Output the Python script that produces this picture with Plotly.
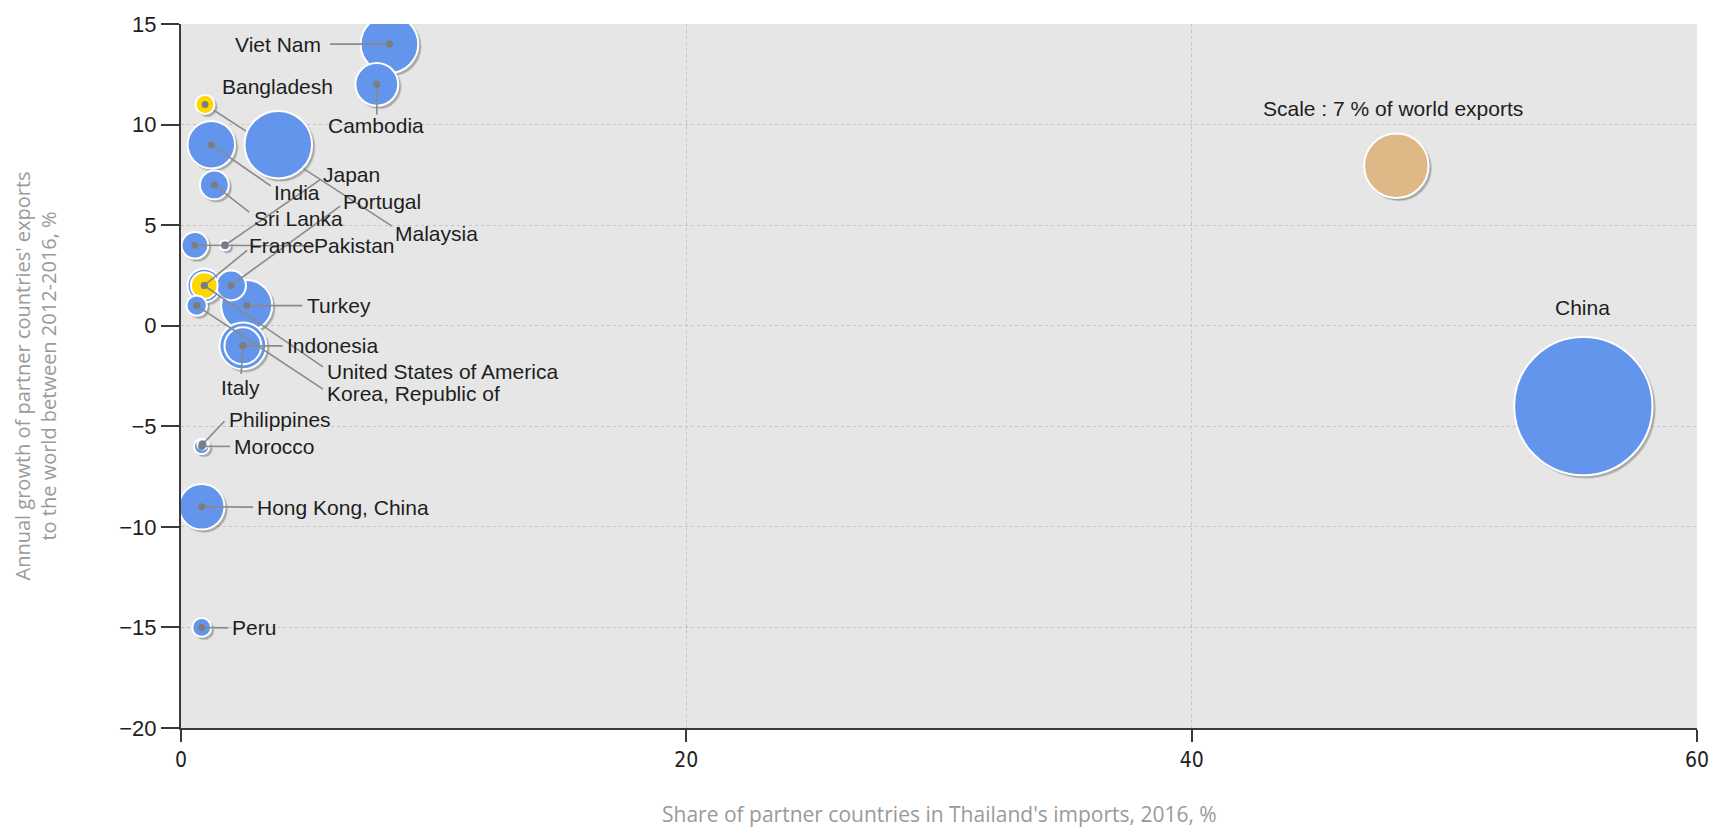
import plotly.graph_objects as go

# ---------------- data ----------------
countries = ["China", "Bangladesh", "Viet Nam", "Turkey", "India", "Italy",
             "Hong Kong, China", "Cambodia", "Indonesia", "France", "Portugal",
             "Sri Lanka", "Pakistan", "United States of America",
             "Korea, Republic of", "Malaysia", "Peru", "Morocco", "Japan",
             "Philippines"]
share_imports = [55.5, 3.85, 8.25, 2.6, 1.2, 2.45, 0.82, 7.75, 2.45, 0.92, 1.98,
                 1.32, 0.55, 0.92, 0.62, 0.95, 0.82, 0.82, 1.74, 0.85]
export_growth = [-4, 9, 14, 1, 9, -1, -9, 12, -1, 2, 2, 7, 4, 2, 1, 11, -15, -6, 4, -5.9]
world_share = [32.3, 7.7, 5.6, 4.4, 3.8, 3.7, 3.5, 3.1, 2.3, 1.9, 1.5, 1.4, 1.2, 1.2,
               0.7, 0.6, 0.6, 0.4, 0.17, 0.17]
highlight = ["Malaysia", "United States of America"]

scale_value = 7
scale_x = [48.1]
scale_y = [7.95]
scale_label = "Scale : 7 % of world exports"

x_ticks = [0, 20, 40, 60]
y_ticks = [-20, -15, -10, -5, 0, 5, 10, 15]
x_title = "Share of partner countries in Thailand's imports, 2016, %"
y_title = "Annual growth of partner countries' exports<br>to the world between 2012-2016, %"

# ---------------- label layout (positions in axis units) ----------------
# name: (label_x, label_y, xanchor, leader_end_x, leader_end_y)  leader None = no line
label_layout = {
    "Viet Nam": (5.62, 14.0, "right", 5.9, 14.0),
    "Cambodia": (7.7, 9.95, "center", 7.75, 10.5),
    "Bangladesh": (3.8, 11.9, "center", None, None),
    "Malaysia": (8.4, 4.6, "left", 8.35, 4.95),
    "India": (3.6, 6.6, "left", 3.55, 6.95),
    "Japan": (5.55, 7.5, "left", 5.5, 7.25),
    "Portugal": (6.35, 6.2, "left", 6.3, 5.95),
    "Sri Lanka": (2.8, 5.35, "left", 2.7, 5.65),
    "Pakistan": (5.2, 3.98, "left", 5.15, 3.98),
    "France": (2.62, 3.98, "left", 2.62, 3.75),
    "Turkey": (4.9, 1.0, "left", 4.8, 1.0),
    "Indonesia": (4.1, -1.0, "left", 4.02, -1.0),
    "United States of America": (5.7, -2.3, "left", 5.62, -2.05),
    "Korea, Republic of": (5.7, -3.35, "left", 5.62, -3.15),
    "Italy": (2.35, -3.05, "center", 2.38, -2.4),
    "Philippines": (1.82, -4.65, "left", 1.72, -4.75),
    "Morocco": (2.02, -6.0, "left", 1.94, -6.0),
    "Hong Kong, China": (2.92, -9.02, "left", 2.85, -9.02),
    "Peru": (1.95, -15.02, "left", 1.87, -15.02),
    "China": (55.45, 0.9, "center", None, None),
}
lines_under = ["Malaysia"]

X_RANGE = [0, 60]
Y_RANGE = [-20, 15]
WIDTH, HEIGHT = 1721, 829
MARGIN = dict(l=181, r=24, t=22, b=101)
PLOT_W = WIDTH - MARGIN["l"] - MARGIN["r"]
PLOT_H = HEIGHT - MARGIN["t"] - MARGIN["b"]

BLUE = "#6495ED"
GOLD = "#FFD700"
TAN = "#DEB887"
LINE_GREY = "#8a8a8a"
SCALE_DIAMETER = 64.4
sizeref = 2 * scale_value / SCALE_DIAMETER ** 2
SHADOW_PX = 2.5
shadow_dx = SHADOW_PX * (X_RANGE[1] - X_RANGE[0]) / PLOT_W
shadow_dy = SHADOW_PX * (Y_RANGE[1] - Y_RANGE[0]) / PLOT_H

fig = go.Figure()


def leader(names):
    xs, ys = [], []
    for i, n in enumerate(countries):
        if n not in names:
            continue
        lay = label_layout[n]
        if lay[3] is None:
            continue
        xs += [share_imports[i], lay[3], None]
        ys += [export_growth[i], lay[4], None]
    return xs, ys


order = sorted(range(len(countries)), key=lambda i: -world_share[i])

# soft drop shadows
fig.add_trace(go.Scatter(
    x=[share_imports[i] + shadow_dx for i in order] + [v + shadow_dx for v in scale_x],
    y=[export_growth[i] - shadow_dy for i in order] + [v - shadow_dy for v in scale_y],
    mode="markers",
    marker=dict(size=[world_share[i] for i in order] + [scale_value], sizemode="area",
                sizeref=sizeref, color="rgba(60,60,60,0.3)", opacity=1,
                line=dict(color="rgba(60,60,60,0.15)", width=2)),
    hoverinfo="skip", showlegend=False))

# leader lines drawn beneath the bubbles
xs, ys = leader(lines_under)
fig.add_trace(go.Scatter(x=xs, y=ys, mode="lines", line=dict(color=LINE_GREY, width=1.6),
                         hoverinfo="skip", showlegend=False))

# bubbles (largest first so small ones sit on top)
fig.add_trace(go.Scatter(
    x=[share_imports[i] for i in order],
    y=[export_growth[i] for i in order],
    text=[countries[i] for i in order],
    mode="markers",
    marker=dict(size=[world_share[i] for i in order], sizemode="area", sizeref=sizeref,
                color=[GOLD if countries[i] in highlight else BLUE for i in order],
                opacity=1, line=dict(color="white", width=2)),
    hovertemplate="%{text}<extra></extra>", showlegend=False))

# scale bubble
fig.add_trace(go.Scatter(
    x=scale_x, y=scale_y, mode="markers",
    marker=dict(size=[scale_value], sizemode="area", sizeref=sizeref, color=TAN,
                opacity=1, line=dict(color="white", width=2)),
    hoverinfo="skip", showlegend=False))

# leader lines on top
xs, ys = leader([n for n in countries if n not in lines_under])
fig.add_trace(go.Scatter(x=xs, y=ys, mode="lines", line=dict(color=LINE_GREY, width=1.6),
                         hoverinfo="skip", showlegend=False))

# centre dots
dot_idx = [i for i, n in enumerate(countries) if label_layout[n][3] is not None]
fig.add_trace(go.Scatter(x=[share_imports[i] for i in dot_idx],
                         y=[export_growth[i] for i in dot_idx],
                         mode="markers", marker=dict(size=7, color="#7d7d7d"),
                         hoverinfo="skip", showlegend=False))

label_font = dict(family="Liberation Sans, Arial, sans-serif", size=21, color="#1e1e1e")
annotations = []
for n in countries:
    lx, ly, xa, _, _ = label_layout[n]
    annotations.append(dict(x=lx, y=ly, xref="x", yref="y", text=n, showarrow=False,
                            xanchor=xa, yanchor="middle", font=label_font))
annotations.append(dict(x=47.95, y=10.78, xref="x", yref="y", text=scale_label,
                        showarrow=False, xanchor="center", yanchor="middle",
                        font=label_font))
annotations.append(dict(x=0.5, y=-0.122, xref="paper", yref="paper", text=x_title,
                        showarrow=False, xanchor="center", yanchor="middle",
                        font=dict(family="Open Sans, sans-serif", size=21, color="#9a9a9a")))
annotations.append(dict(x=-0.096, y=0.5, xref="paper", yref="paper", text=y_title,
                        showarrow=False, xanchor="center", yanchor="middle", textangle=-90,
                        align="center",
                        font=dict(family="Open Sans, sans-serif", size=20, color="#9a9a9a")))

axis_common = dict(showline=True, linecolor="#3a3a3a", linewidth=2, ticks="outside",
                   tickcolor="#3a3a3a", tickwidth=1.5, showgrid=True,
                   gridcolor="#c4c4c4", griddash="dot", gridwidth=1, zeroline=False)

fig.update_layout(
    width=WIDTH, height=HEIGHT,
    margin=MARGIN,
    paper_bgcolor="white", plot_bgcolor="#e6e6e6",
    xaxis=dict(range=X_RANGE, tickvals=x_ticks, ticklen=12, **axis_common,
               tickfont=dict(family="DejaVu Sans Condensed, Liberation Sans Narrow, sans-serif",
                             size=21, color="#1e1e1e")),
    yaxis=dict(range=Y_RANGE, tickvals=y_ticks, ticklen=18, **axis_common,
               tickfont=dict(family="Liberation Sans, Arial, sans-serif", size=22,
                             color="#1e1e1e")),
    annotations=annotations,
    showlegend=False,
)

fig.write_html("out.html", config={"displayModeBar": False},
               post_script="document.body.style.margin='0';")
